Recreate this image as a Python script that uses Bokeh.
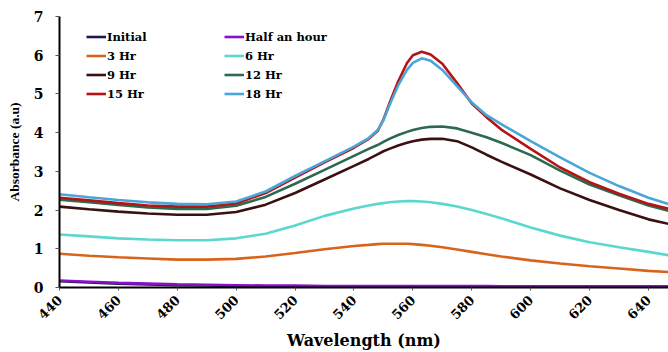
from bokeh.plotting import figure
from bokeh.models import Legend, LegendItem, FixedTicker, Range1d
from bokeh.embed import file_html
from bokeh.resources import INLINE
import math

wavelength = [440, 450, 460, 470, 480, 490, 500, 510, 520, 530, 540, 545, 548, 550, 552,
              555, 558, 560, 563, 566, 570, 575, 580, 585, 590, 600, 610, 620, 630, 640, 647]

initial = [0.16, 0.13, 0.10, 0.08, 0.06, 0.05, 0.04, 0.03, 0.03, 0.03, 0.02, 0.02, 0.02, 0.02, 0.02,
           0.02, 0.02, 0.02, 0.02, 0.02, 0.02, 0.02, 0.02, 0.02, 0.02, 0.02, 0.02, 0.02, 0.02, 0.02, 0.02]
half_hour = [0.18, 0.15, 0.12, 0.10, 0.08, 0.07, 0.06, 0.05, 0.05, 0.04, 0.04, 0.04, 0.04, 0.04, 0.04,
             0.04, 0.04, 0.04, 0.04, 0.04, 0.04, 0.04, 0.04, 0.04, 0.03, 0.03, 0.03, 0.03, 0.03, 0.03, 0.03]
hr3 = [0.87, 0.82, 0.78, 0.75, 0.72, 0.72, 0.74, 0.80, 0.89, 0.99, 1.07, 1.10, 1.12, 1.13, 1.13,
       1.13, 1.13, 1.12, 1.10, 1.08, 1.04, 0.98, 0.92, 0.86, 0.80, 0.70, 0.62, 0.55, 0.49, 0.43, 0.40]
hr6 = [1.37, 1.32, 1.27, 1.24, 1.22, 1.22, 1.27, 1.39, 1.60, 1.85, 2.04, 2.12, 2.16, 2.18, 2.20,
       2.22, 2.23, 2.23, 2.22, 2.20, 2.16, 2.09, 2.00, 1.90, 1.79, 1.55, 1.34, 1.17, 1.04, 0.92, 0.83]
hr9 = [2.09, 2.02, 1.96, 1.91, 1.88, 1.88, 1.95, 2.14, 2.44, 2.79, 3.14, 3.32, 3.44, 3.52, 3.58,
       3.67, 3.74, 3.78, 3.82, 3.84, 3.84, 3.78, 3.62, 3.43, 3.25, 2.92, 2.56, 2.26, 2.00, 1.76, 1.64]
hr12 = [2.27, 2.20, 2.13, 2.07, 2.03, 2.03, 2.11, 2.34, 2.68, 3.04, 3.40, 3.58, 3.68, 3.76, 3.84,
        3.94, 4.02, 4.07, 4.12, 4.15, 4.16, 4.11, 4.00, 3.88, 3.74, 3.42, 3.02, 2.66, 2.38, 2.12, 1.98]
hr15 = [2.32, 2.25, 2.18, 2.12, 2.09, 2.09, 2.17, 2.44, 2.84, 3.23, 3.61, 3.84, 4.04, 4.34, 4.75,
        5.32, 5.80, 6.00, 6.09, 6.02, 5.78, 5.28, 4.75, 4.40, 4.08, 3.58, 3.10, 2.72, 2.42, 2.16, 2.03]
hr18 = [2.41, 2.33, 2.26, 2.20, 2.16, 2.15, 2.22, 2.48, 2.88, 3.26, 3.64, 3.86, 4.06, 4.32, 4.70,
        5.22, 5.62, 5.80, 5.92, 5.86, 5.62, 5.20, 4.78, 4.45, 4.22, 3.78, 3.36, 2.96, 2.62, 2.32, 2.15]

labels = ["Initial", "Half an hour", "3 Hr", "6 Hr", "9 Hr", "12 Hr", "15 Hr", "18 Hr"]
series = [initial, half_hour, hr3, hr6, hr9, hr12, hr15, hr18]
colors = ["#1c1c4a", "#8a0fc8", "#d8641c", "#5ad8d0", "#3a1010", "#2c6a50", "#b41414", "#4aa6d8"]

x_ticks = [440, 460, 480, 500, 520, 540, 560, 580, 600, 620, 640]
y_ticks = [0, 1, 2, 3, 4, 5, 6, 7]

FONT = "DejaVu Serif"

p = figure(width=668, height=352, output_backend="svg", toolbar_location=None,
           x_range=Range1d(440, 646.8), y_range=Range1d(0, 7))
p.min_border_left = 59
p.min_border_right = 0
p.min_border_top = 16
p.min_border_bottom = 63
p.outline_line_color = None
p.background_fill_color = "white"

renderers = []
for ys, c in zip(series, colors):
    r = p.line(wavelength, ys, line_color=c, line_width=2.6)
    renderers.append(r)

# axes
p.xaxis.ticker = FixedTicker(ticks=x_ticks)
p.yaxis.ticker = FixedTicker(ticks=y_ticks)
p.xgrid.visible = False
p.ygrid.ticker = FixedTicker(ticks=[7])
p.ygrid.grid_line_color = "#555555"
p.ygrid.grid_line_width = 2

for ax in (p.xaxis[0], p.yaxis[0]):
    ax.axis_line_color = "black"
    ax.axis_line_width = 2
    ax.major_tick_line_color = "#555555"
    ax.minor_tick_line_color = None
    ax.major_tick_in = 0
    ax.major_label_text_font = FONT
    ax.major_label_text_font_style = "bold"
    ax.major_label_text_color = "black"
    ax.axis_label_text_font = FONT
    ax.axis_label_text_font_style = "bold"
    ax.axis_label_text_color = "black"

p.yaxis.major_tick_out = 4
p.yaxis.major_label_standoff = 12
p.yaxis.major_label_text_font_size = "14px"
p.yaxis.axis_label = "Absorbance (a.u)"
p.yaxis.axis_label_text_font = "Liberation Serif"
p.yaxis.axis_label_text_font_size = "13.5px"
p.yaxis.axis_label_standoff = 9

p.xaxis.major_tick_out = 3
p.xaxis.major_label_standoff = 7
p.xaxis.major_label_orientation = math.pi / 4
p.xaxis.major_label_text_font_size = "13px"
p.xaxis.axis_label = "Wavelength (nm)"
p.xaxis.axis_label_text_font_size = "16px"
p.xaxis.axis_label_standoff = 4

def make_legend(idx, x, y):
    items = [LegendItem(label=labels[i], renderers=[renderers[i]]) for i in idx]
    lg = Legend(items=items, location=(x, y))
    lg.border_line_color = None
    lg.background_fill_alpha = 0
    lg.padding = 0
    lg.margin = 0
    lg.spacing = 0
    lg.glyph_width = 20
    lg.glyph_height = 19
    lg.label_height = 19
    lg.label_standoff = 1
    lg.label_text_font = FONT
    lg.label_text_font_style = "bold"
    lg.label_text_font_size = "11.5px"
    lg.label_text_color = "black"
    return lg

p.add_layout(make_legend([0, 2, 4, 6], 27, 184), "center")
p.add_layout(make_legend([1, 3, 5, 7], 165, 184), "center")

open("out.html", "w").write(file_html(p, INLINE))
